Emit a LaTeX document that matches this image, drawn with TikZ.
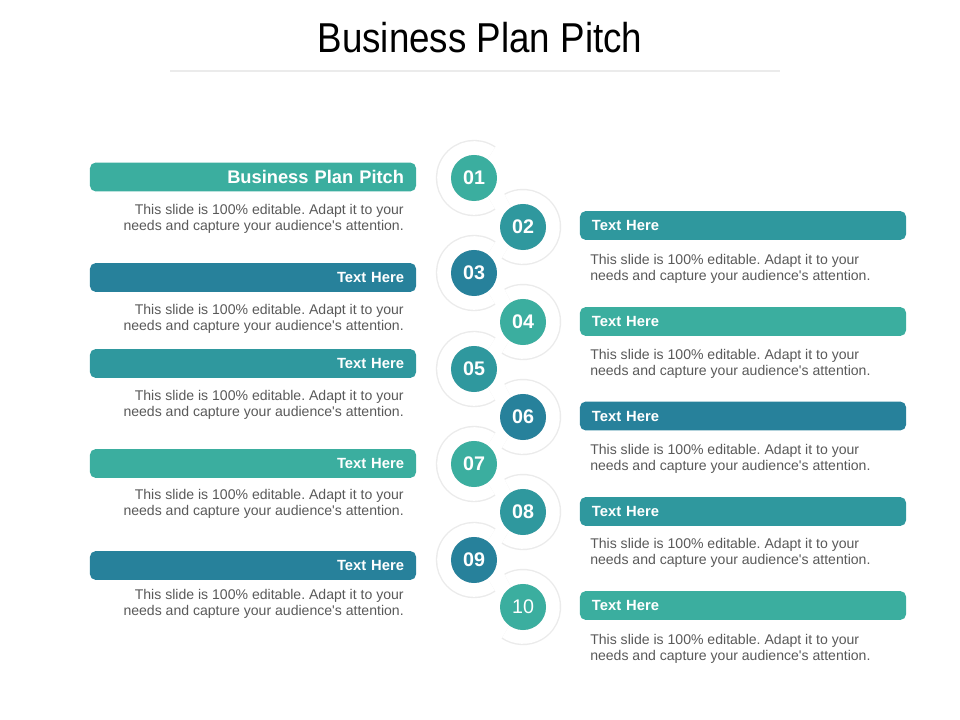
\documentclass[tikz,border=0pt]{standalone}
\usepackage{fontspec}
\setmainfont{Liberation Sans}
\newfontfamily\titlefont[FakeStretch=0.88]{Liberation Sans}
\frenchspacing
\definecolor{tealA}{HTML}{3BAE9F}
\definecolor{tealB}{HTML}{2F989E}
\definecolor{tealC}{HTML}{27819B}
\definecolor{txt}{HTML}{595959}
\definecolor{ringgray}{HTML}{EBEBEB}
\newcommand{\desc}{This slide is 100\% editable. Adapt it to your\\needs and capture your audience\textquotesingle s attention.}

\tikzset{
  ringshadow/.style={draw=ringgray, line width=0.41cm, line cap=butt},
  ringfill/.style={draw=white, line width=0.34cm, line cap=butt},
  num/.style={circle, minimum size=1.15cm, inner sep=0pt, text=white,
    font=\fontsize{14}{14}\selectfont\bfseries},
  bar/.style={rounded corners=4, text width=7.55cm, inner xsep=0.3cm,
    minimum height=0.72cm, inner ysep=0pt, text=white,
    font=\fontsize{10.5}{12}\selectfont\bfseries},
  desc/.style={inner sep=0pt, text=txt, font=\fontsize{10}{11.4}\selectfont}
}

\begin{document}
\begin{tikzpicture}[x=0.025cm, y=-0.025cm]
    \useasboundingbox (0,0) rectangle (960,720);
    \node (title) at (480,38) {\titlefont\fontsize{29.7}{32}\selectfont Business Plan Pitch};
    \draw[ringgray, line width=1.5pt] (170,71) -- (780,71);
    % rings
    \foreach \n/\cx/\cy in {1/474/178, 2/523/227, 3/474/273, 4/523/322, 5/474/369,
                           6/523/417, 7/474/464, 8/523/512, 9/474/560, 10/523/607} {
        \ifodd\n
            \draw[ringshadow] (\cx,\cy) ++(-55:30) arc[start angle=-55, end angle=-305, radius=30];
            \draw[ringfill] (\cx,\cy) ++(-55:30) arc[start angle=-55, end angle=-305, radius=30];
        \else
            \draw[ringshadow] (\cx,\cy) ++(-120:30) arc[start angle=-120, end angle=125, radius=30];
            \draw[ringfill] (\cx,\cy) ++(-120:30) arc[start angle=-120, end angle=125, radius=30];
        \fi
    }
    % numbers
    \foreach \n/\cx/\cy/\col in {01/474/178/tealA, 02/523/227/tealB, 03/474/273/tealC,
                                04/523/322/tealA, 05/474/369/tealB, 06/523/417/tealC,
                                07/474/464/tealA, 08/523/512/tealB, 09/474/560/tealC} {
        \node[num, fill=\col] (c\n) at (\cx,\cy) {\n};
    }
    \node[num, fill=tealA, font=\fontsize{14}{14}\selectfont] (c10) at (523,607) {10};
    % left bars
    \node[bar, fill=tealA, align=right, font=\fontsize{13}{14}\selectfont\bfseries] (l1) at (253,177) {Business Plan Pitch};
    \foreach \b/\by/\col in {l2/277.5/tealC, l3/363.5/tealB, l4/463.5/tealA, l5/565.5/tealC} {
        \node[bar, fill=\col, align=right] (\b) at (253,\by) {Text Here};
    }
    \foreach \b/\ty in {l1/219, l2/319, l3/405, l4/504, l5/604} {
        \node[desc, anchor=east, align=right] (t\b) at (404,\ty) {\desc};
    }
    % right bars
    \foreach \b/\by/\col in {r1/225.5/tealB, r2/321.5/tealA, r3/416/tealC, r4/511.5/tealB, r5/605.5/tealA} {
        \node[bar, fill=\col, align=left] (\b) at (743,\by) {Text Here};
    }
    \foreach \b/\ty in {r1/269, r2/364, r3/459, r4/553, r5/649} {
        \node[desc, anchor=west, align=left] (t\b) at (590,\ty) {\desc};
    }
\end{tikzpicture}
\end{document}
